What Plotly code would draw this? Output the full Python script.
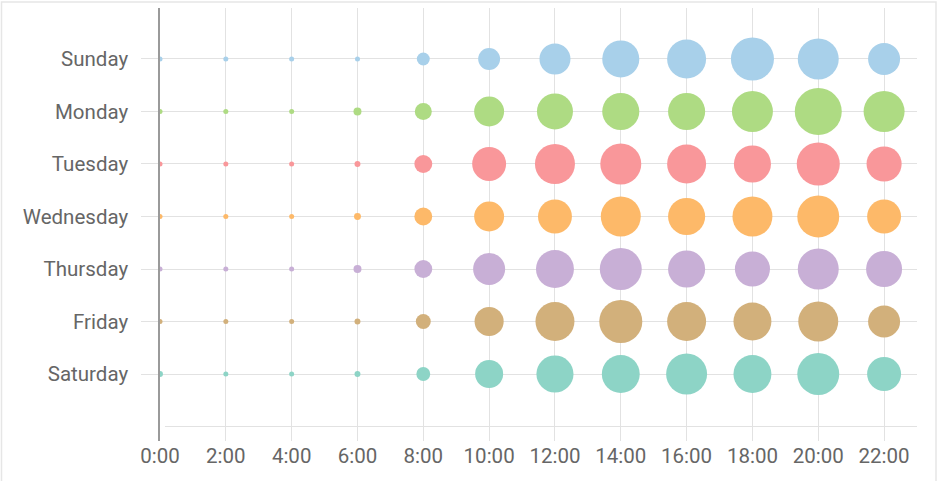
import plotly.graph_objects as go

days = ["Sunday", "Monday", "Tuesday", "Wednesday", "Thursday", "Friday", "Saturday"]
hours = [0, 2, 4, 6, 8, 10, 12, 14, 16, 18, 20, 22]
hour_labels = ["0:00", "2:00", "4:00", "6:00", "8:00", "10:00", "12:00",
               "14:00", "16:00", "18:00", "20:00", "22:00"]

sunday = [0.5, 0.5, 0.5, 1, 10.5, 30, 60, 86, 95, 116, 105, 64]
monday = [1.6, 1.6, 0.6, 4, 18, 56, 81, 86, 86, 105, 138, 105]
tuesday = [1.6, 1, 1, 2.2, 20, 72, 100, 105, 95, 86, 116, 77]
wednesday = [1.6, 1.6, 0.6, 3, 20, 56, 72, 100, 86, 100, 110, 72]
thursday = [0.6, 0.6, 0.6, 4, 20, 64, 90, 110, 86, 77, 105, 81]
friday = [1, 0.6, 0.6, 2.2, 14, 53, 95, 116, 95, 90, 100, 64]
saturday = [2.2, 1, 0.6, 2.2, 12, 49, 86, 90, 105, 90, 110, 72]

series = [sunday, monday, tuesday, wednesday, thursday, friday, saturday]
colors = ["#a8d0ea", "#aedb83", "#f9979a", "#fdb969", "#c8afd6", "#d2b07b", "#8dd4c6"]

GRID = "#e2e2e2"
TEXT = "#666666"

fig = go.Figure()
for i, (day, vals, col) in enumerate(zip(days, series, colors)):
    fig.add_trace(go.Scatter(
        x=hours, y=[i] * len(hours), mode="markers", name=day,
        marker=dict(size=vals, sizemode="area", sizeref=0.125, sizemin=2.5,
                    color=col, opacity=1, line=dict(width=0)),
        showlegend=False,
    ))

fig.update_layout(
    width=938, height=481,
    margin=dict(l=160, r=21, t=8, b=40),
    paper_bgcolor="white", plot_bgcolor="white",
    font=dict(family="Roboto", size=20.5, color=TEXT),
    xaxis=dict(range=[0, 23], tickvals=hours, ticktext=hour_labels,
               showgrid=True, gridcolor=GRID, gridwidth=1, zeroline=False,
               showline=False, ticks="", ticklabelstandoff=0, automargin=False,
               fixedrange=True),
    yaxis=dict(range=[7.276, -0.971], tickvals=list(range(7)), ticktext=days,
               showgrid=True, gridcolor=GRID, gridwidth=1, zeroline=False,
               showline=True, linecolor="#9a9a9a", linewidth=1.5,
               ticks="outside", ticklen=17, tickcolor=GRID, tickwidth=1,
               ticklabelstandoff=9, automargin=False, fixedrange=True),
    shapes=[
        dict(type="line", xref="x", yref="y", x0=0.15, x1=23, y0=7, y1=7,
             line=dict(color=GRID, width=1), layer="below"),
        dict(type="rect", xref="paper", yref="paper",
             x0=(1.5 - 160) / 757, x1=(936 - 160) / 757,
             y0=(441 - 520) / 433, y1=(441 - 2) / 433,
             line=dict(color="#e6e6e6", width=1.5), layer="below"),
    ],
)

fig.write_html("out.html", config={"displayModeBar": False},
               post_script="document.body.style.margin='0';")
